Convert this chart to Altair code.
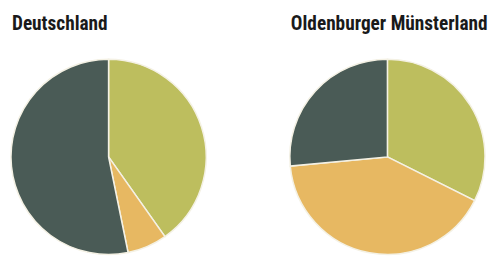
import altair as alt
import pandas as pd

categories = ["Anteil A", "Anteil B", "Anteil C"]
deutschland = [40.2, 6.6, 53.2]
oldenburg = [32.4, 41.1, 26.5]
colors = ["#bdbe5e", "#e7b862", "#4a5b56"]

def pie(values, title):
    df = pd.DataFrame({"kategorie": categories, "wert": values, "ord": [0, 1, 2]})
    return (
        alt.Chart(df)
        .mark_arc(outerRadius=98, stroke="#f4f1e4", strokeWidth=1.5)
        .encode(
            theta=alt.Theta("wert:Q", stack=True),
            color=alt.Color("kategorie:N", scale=alt.Scale(domain=categories, range=colors), legend=None),
            order=alt.Order("ord:Q"),
        )
        .properties(
            width=200,
            height=200,
            title=alt.TitleParams(title, anchor="start", dx=4, dy=10, fontSize=19.4,
                                  font="Liberation Sans Narrow, Roboto Condensed, Roboto",
                                  fontWeight="bold", color="#1a1a1a", offset=32),
        )
    )

chart = (
    alt.hconcat(pie(deutschland, "Deutschland"), pie(oldenburg, "Oldenburger Münsterland"),
                spacing=80, bounds="flush")
    .properties(padding={"top": 5, "left": 0, "right": 0, "bottom": 0})
    .configure_view(stroke=None)
    .configure(background="white")
)

chart.save("out.html", embed_options={"renderer": "svg", "actions": False})
